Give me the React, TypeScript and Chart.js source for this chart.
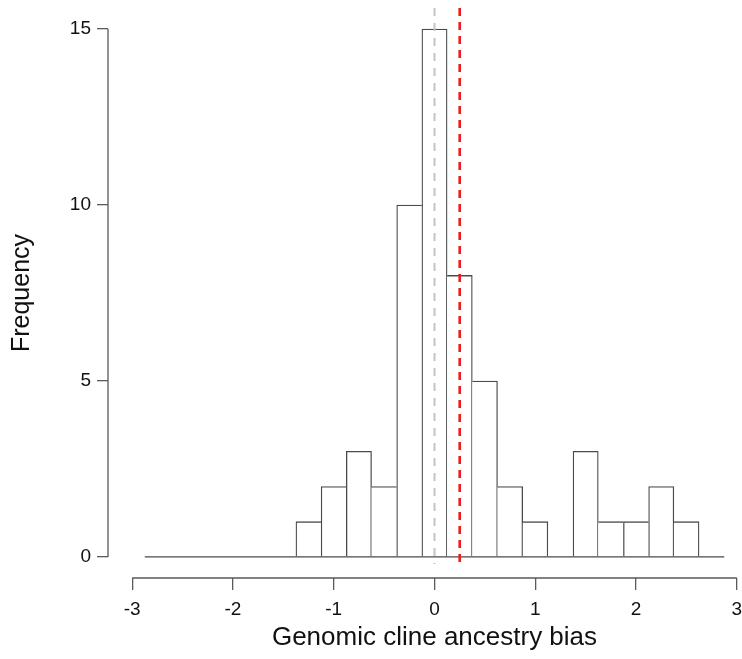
import React, { useEffect, useRef } from "react";
import { Chart, registerables } from "chart.js";

Chart.register(...registerables);

// Histogram bins (width 0.25) — centres and counts
const binCenters = [
  -2.75, -2.5, -2.25, -2.0, -1.75, -1.5, -1.25, -1.0, -0.75, -0.5, -0.25, 0.0,
  0.25, 0.5, 0.75, 1.0, 1.25, 1.5, 1.75, 2.0, 2.25, 2.5, 2.75,
];
const counts = [
  0, 0, 0, 0, 0, 0, 1, 2, 3, 2, 10, 15,
  8, 5, 2, 1, 0, 3, 1, 1, 2, 1, 0,
];
const histRange = [-2.875, 2.875];
const zeroLineX = 0;
const biasLineX = 0.25;
const xTicks = [-3, -2, -1, 0, 1, 2, 3];
const yTicks = [0, 5, 10, 15];
const xTitle = "Genomic cline ancestry bias";
const yTitle = "Frequency";

const FONT = "'Liberation Sans', Arial, Helvetica, sans-serif";
const BAR_COLOR = "#4a4a4a";
const AXIS_COLOR = "#5a5a5a";
const TEXT_COLOR = "#111111";

export default function App() {
  const ref = useRef<HTMLCanvasElement>(null);

  useEffect(() => {
    document.body.style.margin = "0";
    document.body.style.overflow = "hidden";
    const canvas = ref.current;
    if (!canvas) return;

    const bw = 1.3;
    const barData = binCenters.map((x, i) => ({ x, y: counts[i] }));

    const axisLines = {
      id: "rAxisLines",
      afterDatasetsDraw(chart: any) {
        const { ctx, chartArea, scales } = chart;
        const xs = scales.x;
        const ys = scales.y;
        ctx.save();
        ctx.strokeStyle = AXIS_COLOR;
        ctx.lineWidth = bw;
        ctx.beginPath();
        const lx = chartArea.left;
        ctx.moveTo(lx, ys.getPixelForValue(yTicks[0]));
        ctx.lineTo(lx, ys.getPixelForValue(yTicks[yTicks.length - 1]));
        const by = chartArea.bottom;
        ctx.moveTo(xs.getPixelForValue(xTicks[0]), by);
        ctx.lineTo(xs.getPixelForValue(xTicks[xTicks.length - 1]), by);
        ctx.stroke();
        ctx.restore();
      },
    };

    const chart = new Chart(canvas, {
      type: "bar",
      data: {
        datasets: [
          {
            type: "bar",
            data: barData as any,
            backgroundColor: "#ffffff",
            borderColor: BAR_COLOR,
            borderSkipped: false,
            borderWidth: (c: any) => {
              const i = c.dataIndex;
              const cur = counts[i];
              if (!cur) return 0;
              const prev = i > 0 ? counts[i - 1] : 0;
              const next = i < counts.length - 1 ? counts[i + 1] : 0;
              return {
                top: bw,
                bottom: 0,
                left: prev <= cur ? bw : 0,
                right: next < cur ? bw : 0,
              };
            },
            barPercentage: 1,
            categoryPercentage: 1,
            order: 4,
          } as any,
          {
            type: "line",
            data: [
              { x: histRange[0], y: 0 },
              { x: histRange[1], y: 0 },
            ],
            borderColor: BAR_COLOR,
            borderWidth: bw,
            pointRadius: 0,
            order: 3,
          } as any,
          {
            type: "line",
            data: [
              { x: zeroLineX, y: 15.6 },
              { x: zeroLineX, y: -0.2 },
            ],
            borderColor: "#c4c4c4",
            borderWidth: 2,
            borderDash: [8, 7],
            pointRadius: 0,
            order: 2,
          } as any,
          {
            type: "line",
            data: [
              { x: biasLineX, y: 15.6 },
              { x: biasLineX, y: -0.2 },
            ],
            borderColor: "#ee1c1c",
            borderWidth: 2.6,
            borderDash: [8, 6],
            pointRadius: 0,
            order: 1,
          } as any,
        ],
      },
      options: {
        responsive: false,
        animation: false,
        devicePixelRatio: 1,
        layout: { padding: { top: 8, left: 0, right: 0, bottom: 0 }, autoPadding: false },
        plugins: {
          legend: { display: false },
          tooltip: { enabled: false },
        },
        scales: {
          x: {
            type: "linear",
            offset: false,
            min: -3.24,
            max: 3.24,
            afterBuildTicks: (s: any) => {
              s.ticks = xTicks.map((v) => ({ value: v }));
            },
            afterFit: (s: any) => {
              s.height = 81;
              s.paddingLeft = 0;
              s.paddingRight = 0;
            },
            border: { display: false },
            grid: {
              display: true,
              offset: false,
              drawOnChartArea: false,
              drawTicks: true,
              tickLength: 12,
              color: AXIS_COLOR,
              lineWidth: bw,
            },
            ticks: {
              padding: 8,
              maxRotation: 0,
              autoSkip: false,
              color: TEXT_COLOR,
              font: { family: FONT, size: 19 },
              callback: (v: any) => String(v),
            },
            title: {
              display: true,
              text: xTitle,
              color: TEXT_COLOR,
              font: { family: FONT, size: 26 },
              padding: { top: 0, bottom: 6 },
            },
          },
          y: {
            type: "linear",
            min: -0.6,
            max: 15.6,
            afterBuildTicks: (s: any) => {
              s.ticks = yTicks.map((v) => ({ value: v }));
            },
            afterFit: (s: any) => {
              s.width = 108;
              s.paddingTop = 0;
              s.paddingBottom = 0;
            },
            border: { display: false },
            grid: {
              display: true,
              drawOnChartArea: false,
              drawTicks: true,
              tickLength: 11,
              color: AXIS_COLOR,
              lineWidth: bw,
            },
            ticks: {
              padding: 6,
              autoSkip: false,
              color: TEXT_COLOR,
              font: { family: FONT, size: 19 },
              callback: (v: any) => String(v),
            },
            title: {
              display: true,
              text: yTitle,
              color: TEXT_COLOR,
              font: { family: FONT, size: 25 },
              padding: { top: 7, bottom: 0 },
            },
          },
        },
      },
      plugins: [axisLines],
    });

    return () => chart.destroy();
  }, []);

  return (
    <div style={{ width: 742, height: 659, overflow: "hidden", position: "relative", background: "#ffffff" }}>
      <canvas ref={ref} width={761} height={659} style={{ display: "block" }} />
    </div>
  );
}
